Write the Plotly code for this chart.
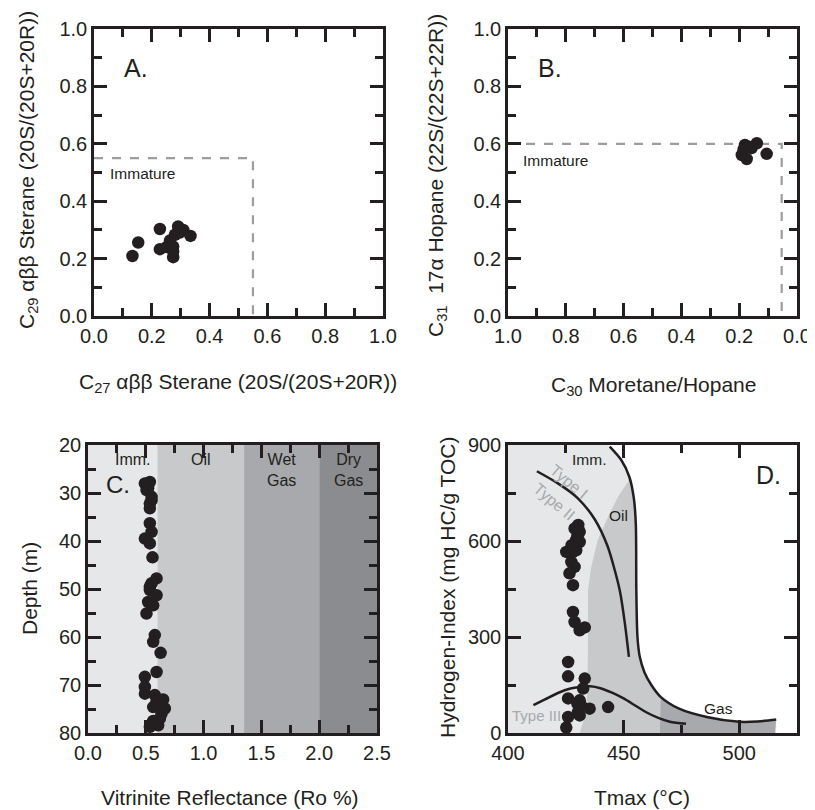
import plotly.graph_objects as go

INK = "#231f20"
FONT = "Liberation Sans, Arial, sans-serif"

# ---------------- Data ----------------
# Panel A: C27 vs C29 sterane isomerisation
A_c27 = [0.133, 0.153, 0.228, 0.228, 0.274, 0.291, 0.309, 0.334, 0.263, 0.274, 0.251, 0.280, 0.297, 0.274]
A_c29 = [0.209, 0.256, 0.303, 0.233, 0.205, 0.312, 0.300, 0.279, 0.263, 0.242, 0.240, 0.283, 0.291, 0.225]
A_imm_x = [0.0, 0.55, 0.55]
A_imm_y = [0.55, 0.55, 0.0]

# Panel B: C30 moretane/hopane vs C31 hopane 22S/(22S+22R)
B_mor = [0.105, 0.180, 0.139, 0.191, 0.174, 0.157, 0.168, 0.185]
B_hop = [0.565, 0.596, 0.602, 0.561, 0.547, 0.585, 0.590, 0.580]
B_imm_x = [1.0, 0.053, 0.053]
B_imm_y = [0.6, 0.6, 0.0]

# Panel C: vitrinite reflectance vs depth
C_ro = [0.492, 0.535, 0.506, 0.520, 0.550, 0.550, 0.535, 0.535, 0.535, 0.550, 0.492, 0.535,
        0.558, 0.593, 0.550, 0.535, 0.535, 0.593, 0.520, 0.564, 0.506, 0.578, 0.564, 0.628,
        0.593, 0.492, 0.492, 0.492, 0.578, 0.593, 0.564, 0.665, 0.636, 0.622, 0.607, 0.535,
        0.650, 0.564]
C_depth = [28.0, 27.7, 29.4, 29.0, 30.8, 31.5, 32.2, 33.2, 36.3, 38.1, 39.5, 40.5,
           43.4, 47.8, 48.8, 49.5, 50.2, 51.3, 52.7, 53.4, 55.1, 59.6, 61.0, 63.3,
           67.3, 68.3, 70.4, 71.8, 72.1, 73.5, 74.6, 74.9, 76.0, 77.0, 78.4, 78.7,
           73.0, 77.5]
C_zone_edges = [0.0, 0.6, 1.35, 2.0, 2.5]
C_zone_names = ["Imm.", "Oil", "Wet<br>Gas", "Dry<br>Gas"]
C_zone_colors = ["#e6e7e8", "#c8c9cb", "#a7a9ac", "#8b8c8f"]

# Panel D: Tmax vs Hydrogen Index
D_tmax = [428.8, 430.4, 431.0, 429.5, 431.0, 425.2, 428.0, 429.5, 427.4, 428.8, 426.6, 428.1,
          428.1, 428.8, 431.0, 433.2, 426.0, 426.0, 433.2, 432.5, 426.0, 431.0, 431.6, 430.3,
          435.3, 443.3, 426.0, 425.2, 431.0, 430.0, 427.5, 430.0]
D_hi = [639, 650, 629, 603, 597, 566, 566, 571, 535, 519, 499, 462,
        378, 347, 321, 330, 222, 177, 170, 139, 108, 102, 86, 66,
        76, 81, 50, 17, 55, 92, 587, 615]

# Maturity boundary curve (Imm./Oil/Gas envelope)
D_env_t = [443.5, 444, 449, 452.5, 454.5, 455.3, 455.5, 456, 457, 459, 462, 466, 474, 486, 500, 508, 516]
D_env_hi = [900, 895, 853, 800, 730, 650, 450, 300, 238, 190, 150, 113, 76, 50, 35, 36, 42]
# Left edge of oil window shading
D_oil_t = [431.0, 433.2, 434.4, 434.6, 434.6, 436.0, 438.8, 443.3, 447.6, 451.9, 452.5]
D_oil_hi = [0, 50, 134, 300, 446, 519, 603, 676, 738, 785, 800]
# Left edge of gas shading
D_gas_t = [465.7, 466.0]
D_gas_hi = [0, 113]
# Kerogen type curves
D_t12_t = [412.5, 421.6, 430.0, 437.5, 443.0, 446.5, 448.5, 450.5, 452.3]
D_t12_hi = [818, 780, 735, 668, 585, 500, 440, 345, 238]
D_t3_t = [411, 416, 421.6, 427, 431, 435.5, 440, 445, 450, 455, 460, 465, 470, 477]
D_t3_hi = [87, 105, 125, 139, 144, 146, 140, 126, 108, 86, 64, 47, 35, 29]

# ---------------- Figure ----------------
fig = go.Figure()

mk = dict(size=12.5, color=INK, line=dict(width=0))
dash_line = dict(color="#9d9d9d", width=2.2, dash="dash")

# A
fig.add_trace(go.Scatter(x=A_imm_x, y=A_imm_y, mode="lines", line=dash_line, xaxis="x", yaxis="y", hoverinfo="skip"))
fig.add_trace(go.Scatter(x=A_c27, y=A_c29, mode="markers", marker=mk, xaxis="x", yaxis="y"))
# B
fig.add_trace(go.Scatter(x=B_imm_x, y=B_imm_y, mode="lines", line=dash_line, xaxis="x2", yaxis="y2", hoverinfo="skip"))
fig.add_trace(go.Scatter(x=B_mor, y=B_hop, mode="markers", marker=mk, xaxis="x2", yaxis="y2"))
# C
fig.add_trace(go.Scatter(x=C_ro, y=C_depth, mode="markers", marker=mk, xaxis="x3", yaxis="y3"))
for i, col in enumerate(C_zone_colors):
    fig.add_shape(type="rect", xref="x3", yref="y3", x0=C_zone_edges[i], x1=C_zone_edges[i + 1],
                  y0=20, y1=80, fillcolor=col, line=dict(width=0), layer="below")

# D shaded regions
light_x = [400, 400] + D_env_t + [516]
light_y = [0, 900] + D_env_hi + [0]
fig.add_trace(go.Scatter(x=light_x, y=light_y, fill="toself", fillcolor="#e6e7e8", mode="none",
                         xaxis="x4", yaxis="y4", hoverinfo="skip"))
env_mid = [(t, h) for t, h in zip(D_env_t, D_env_hi) if 452.5 < t < 466]
oil_x = D_oil_t + [p[0] for p in env_mid] + D_gas_t[::-1]
oil_y = D_oil_hi + [p[1] for p in env_mid] + D_gas_hi[::-1]
fig.add_trace(go.Scatter(x=oil_x, y=oil_y, fill="toself", fillcolor="#c8c9cb", mode="none",
                         xaxis="x4", yaxis="y4", hoverinfo="skip"))
env_gas = [(t, h) for t, h in zip(D_env_t, D_env_hi) if t > 466]
gas_x = D_gas_t + [p[0] for p in env_gas] + [515.5]
gas_y = D_gas_hi + [p[1] for p in env_gas] + [0]
fig.add_trace(go.Scatter(x=gas_x, y=gas_y, fill="toself", fillcolor="#a7a9ac", mode="none",
                         xaxis="x4", yaxis="y4", hoverinfo="skip"))
curve = dict(color=INK, width=2.5, shape="spline", smoothing=0.8)
fig.add_trace(go.Scatter(x=D_env_t[1:], y=D_env_hi[1:], mode="lines", line=curve, xaxis="x4", yaxis="y4"))
fig.add_trace(go.Scatter(x=D_t12_t, y=D_t12_hi, mode="lines", line=curve, xaxis="x4", yaxis="y4"))
fig.add_trace(go.Scatter(x=D_t3_t, y=D_t3_hi, mode="lines", line=curve, xaxis="x4", yaxis="y4"))
fig.add_trace(go.Scatter(x=D_tmax, y=D_hi, mode="markers", marker=mk, xaxis="x4", yaxis="y4"))

# The page body has an 8 px margin, so the figure is 8 px smaller and offset.
OFF = 8
W, H = 815 - OFF, 810 - OFF
def px_x(p):
    return (p - OFF) / W
def px_y(p):
    return 1 - (p - OFF) / H

def ax(**kw):
    base = dict(showline=True, linewidth=2.5, linecolor=INK, mirror="allticks", ticks="inside",
                ticklen=13, tickwidth=2.5, tickcolor=INK, showgrid=False, zeroline=False,
                automargin=False, tickfont=dict(size=20, color=INK, family=FONT))
    base.update(kw)
    return base

def minor(d):
    return dict(ticks="inside", ticklen=8, tickwidth=2.5, tickcolor=INK, dtick=d, showgrid=False)

dAx = [px_x(94), px_x(383)]
dBx = [px_x(508), px_x(797)]
dCx = [px_x(88), px_x(377)]
dDx = [px_x(508), px_x(797)]
dTop = [px_y(316), px_y(29)]
dBot = [px_y(733), px_y(445)]

fig.update_layout(
    template="none",
    width=W, height=H, margin=dict(l=0, r=0, t=0, b=0, pad=0),
    paper_bgcolor="white", plot_bgcolor="white", showlegend=False,
    font=dict(family=FONT, color=INK),
    xaxis=ax(domain=dAx, range=[0, 1], dtick=0.2, tickformat=".1f", minor=minor(0.1), anchor="y"),
    yaxis=ax(domain=dTop, range=[0, 1], dtick=0.2, tickformat=".1f", minor=minor(0.1), anchor="x"),
    xaxis2=ax(domain=dBx, range=[1, 0], dtick=0.2, tickformat=".1f", minor=minor(0.1), anchor="y2"),
    yaxis2=ax(domain=dTop, range=[0, 1], dtick=0.2, tickformat=".1f", minor=minor(0.1), anchor="x2"),
    xaxis3=ax(domain=dCx, range=[0, 2.5], dtick=0.5, tickformat=".1f", minor=minor(0.25), anchor="y3"),
    yaxis3=ax(domain=dBot, range=[80, 20], dtick=10, minor=minor(5), anchor="x3"),
    xaxis4=ax(domain=dDx, range=[400, 525], dtick=50, minor=minor(25), anchor="y4"),
    yaxis4=ax(domain=dBot, range=[0, 900], dtick=300, minor=minor(150), anchor="x4"),
)

def note(text, x, y, xref, yref, size=13, color=INK, angle=0, xanchor="center"):
    fig.add_annotation(text=text, x=x, y=y, xref=xref, yref=yref, showarrow=False,
                       font=dict(size=size, color=color, family=FONT), textangle=angle,
                       xanchor=xanchor, yanchor="middle")

TS = 21
# axis titles
note("C<sub>27</sub> αββ Sterane (20S/(20S+20R))", px_x(238), px_y(383), "paper", "paper", size=TS)
note("C<sub>29</sub> αββ Sterane (20S/(20S+20R))", px_x(28), px_y(170), "paper", "paper", size=TS, angle=-90)
note("C<sub>30</sub> Moretane/Hopane", px_x(653), px_y(386), "paper", "paper", size=TS)
note("C<sub>31</sub>  17α Hopane (22S/(22S+22R))", px_x(437), px_y(176), "paper", "paper", size=TS, angle=-90)
note("Vitrinite Reflectance (Ro %)", px_x(230), px_y(797), "paper", "paper", size=TS)
note("Depth (m)", px_x(29), px_y(589), "paper", "paper", size=TS, angle=-90)
note("Tmax (°C)", px_x(642), px_y(797), "paper", "paper", size=TS)
note("Hydrogen-Index (mg HC/g TOC)", px_x(447), px_y(587), "paper", "paper", size=TS, angle=-90)

# panel labels
note("A.", 0.147, 0.864, "x", "y", size=25)
note("Immature", 0.168, 0.495, "x", "y", size=15.5)
note("B.", 0.855, 0.864, "x2", "y2", size=25)
note("Immature", 0.837, 0.541, "x2", "y2", size=15.5)
note("C.", 0.26, 28.3, "x3", "y3", size=24)
for i, name in enumerate(C_zone_names):
    mid = (C_zone_edges[i] + C_zone_edges[i + 1]) / 2
    yy = 23.1 if "<br>" not in name else 25.2
    note(name, mid if i else 0.39, yy, "x3", "y3", size=16)
note("D.", 512.6, 806, "x4", "y4", size=25)
note("Imm.", 434.9, 855, "x4", "y4", size=15.5)
note("Oil", 447.6, 681, "x4", "y4", size=15.5)
note("Gas", 491, 76, "x4", "y4", size=15.5)
note("Type I", 426.2, 785, "x4", "y4", size=16, color="#a7a9ac", angle=40)
note("Type II", 419.8, 722, "x4", "y4", size=16, color="#a7a9ac", angle=40)
note("Type III", 412.2, 55, "x4", "y4", size=15, color="#a7a9ac")

fig.write_html("out.html")
